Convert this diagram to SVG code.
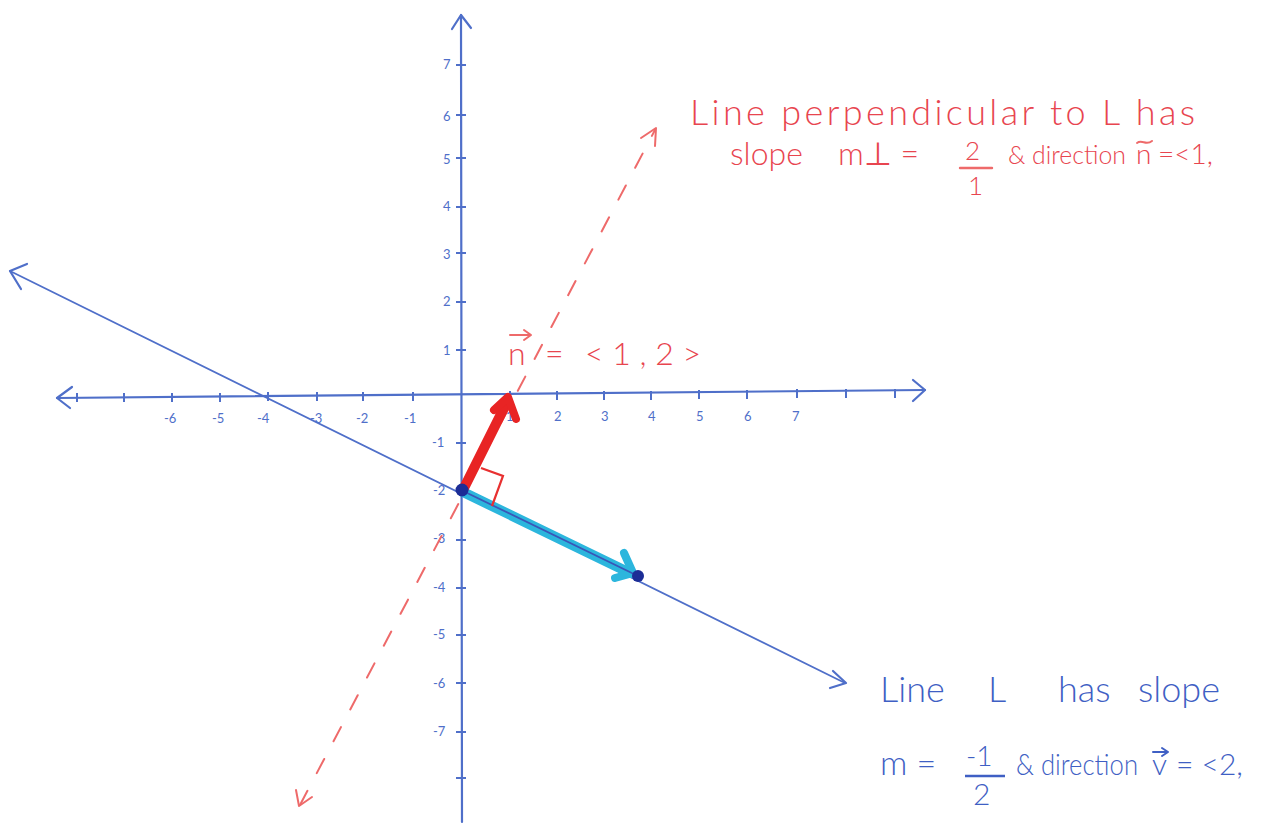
<svg xmlns="http://www.w3.org/2000/svg" width="1283" height="827" viewBox="0 0 1283 827">
<style>
.ax{stroke:#4f6fc9;stroke-width:2.2;fill:none;stroke-linecap:round;stroke-linejoin:round}
.tk{stroke:#4f6fc9;stroke-width:2;fill:none}
.lab{font-family:"Lato","Liberation Sans",sans-serif;font-size:13px;fill:#4f6fc9}
.bt{font-family:"Lato","Liberation Sans",sans-serif;font-weight:300;fill:#3f5fc4}
.rt{font-family:"Lato","Liberation Sans",sans-serif;font-weight:300;fill:#e8454f}
.dash{stroke:#ee6a6a;stroke-width:2;fill:none;stroke-dasharray:16 20;stroke-linecap:round}
.rl{stroke:#ee6a6a;stroke-width:2;fill:none;stroke-linecap:round;stroke-linejoin:round}
.bl{stroke:#3f5fc4;stroke-width:2;fill:none;stroke-linecap:round;stroke-linejoin:round}
</style>
<rect width="1283" height="827" fill="#ffffff"/>
<g id="axes">
<path class="ax" d="M57,398 L925,390"/>
<path class="ax" d="M72,387 L57,398 L70,408"/>
<path class="ax" d="M913,380 L925,390 L913,401"/>
<path class="ax" d="M461,15 L462,822"/>
<path class="ax" d="M452,29 L461,15 L471,28"/>
<g class="tk">
<path d="M77,393 v9 M124,393 v9 M172,393 v9 M220,393 v9 M268,392 v9 M317,392 v9 M363,392 v9 M413,392 v9"/>
<path d="M510,391 v9 M557,391 v9 M604,391 v9 M651,391 v9 M699,390 v9 M747,390 v9 M797,389 v9 M846,389 v9 M895,389 v9"/>
<path d="M456,65 h10 M456,115 h10 M456,158 h10 M456,207 h10 M456,253 h10 M456,302 h10 M456,350 h10"/>
<path d="M456,443 h10 M456,540 h10 M456,588 h10 M456,635 h10 M456,683 h10 M456,732 h10 M456,778 h10"/>
</g>
<g class="lab">
<text x="164" y="423">-6</text><text x="212" y="423">-5</text><text x="257" y="423">-4</text><text x="310" y="423">-3</text><text x="356" y="423">-2</text><text x="404" y="423">-1</text>
<text x="506" y="421">1</text><text x="554" y="421">2</text><text x="601" y="421">3</text><text x="648" y="421">4</text><text x="696" y="421">5</text><text x="744" y="421">6</text><text x="792" y="421">7</text>
<text x="443" y="69">7</text><text x="443" y="121">6</text><text x="443" y="164">5</text><text x="443" y="211">4</text><text x="443" y="259">3</text><text x="443" y="306">2</text><text x="443" y="355">1</text>
<text x="432" y="447">-1</text><text x="433" y="495">-2</text><text x="433" y="543">-3</text><text x="433" y="592">-4</text><text x="433" y="639">-5</text><text x="433" y="688">-6</text><text x="433" y="736">-7</text>
</g>
</g>
<g id="line-perp">
<path class="dash" d="M300,805 L655,130"/>
<path class="rl" d="M641,138 L656,128 L655,146"/>
<path class="rl" d="M296,790 L299,806 L312,797"/>
</g>
<g id="line-L">
<path class="ax" d="M10,271 L845,683" style="stroke-width:1.8"/>
<path class="ax" d="M27,264 L10,271 L21,289"/>
<path class="ax" d="M833,671 L846,683 L830,688"/>
</g>
<g id="vector-v">
<path d="M463,492 L630,573" stroke="#2cb6dd" stroke-width="10" stroke-linecap="round" fill="none"/>
<path d="M624,553 L633,573 L615,578" stroke="#2cb6dd" stroke-width="8" stroke-linecap="round" stroke-linejoin="round" fill="none"/>
<path d="M461,490 L638,576" stroke="#3a56b8" stroke-width="1.8" fill="none"/>
</g>
<g id="vector-n">
<path d="M464,488 L506,404" stroke="#e82424" stroke-width="10" stroke-linecap="round" fill="none"/>
<path d="M494,410 L508,397 L516,419" stroke="#e82424" stroke-width="8" stroke-linecap="round" stroke-linejoin="round" fill="none"/>
<path d="M481,468 L503,476 L492,506" stroke="#e83030" stroke-width="2.2" fill="none"/>
</g>
<g id="points">
<circle cx="462" cy="490" r="6.5" fill="#1c2d96"/>
<circle cx="638" cy="576" r="6" fill="#1c2d96"/>
</g>
<g id="label-n">
<text class="rt" x="508" y="365" font-size="32">n</text>
<path class="rl" d="M510,335 H530 M524,330 L531,335 L524,340"/>
<text class="rt" x="545" y="365" font-size="32">=</text>
<text class="rt" x="585" y="365" font-size="32">&lt; 1 , 2 &gt;</text>
</g>
<g id="text-perp">
<text class="rt" x="690" y="125" font-size="36" textLength="505" lengthAdjust="spacing">Line perpendicular to L has</text>
<text class="rt" x="730" y="165" font-size="32">slope</text>
<text class="rt" x="838" y="165" font-size="32">m⊥ =</text>
<text class="rt" x="965" y="160" font-size="26">2</text>
<path class="rl" d="M960,168 H992" style="stroke-width:2.4"/>
<text class="rt" x="968" y="195" font-size="26">1</text>
<text class="rt" x="1008" y="164" font-size="26" textLength="118" lengthAdjust="spacingAndGlyphs">&amp; direction</text>
<text class="rt" x="1136" y="164" font-size="28">n</text>
<path class="rl" d="M1137,143 C1142,139 1146,146 1152,141"/>
<text class="rt" x="1158" y="164" font-size="28">=&lt;1,</text>
</g>
<g id="text-L">
<text class="bt" x="880" y="702" font-size="36">Line</text>
<text class="bt" x="988" y="702" font-size="36">L</text>
<text class="bt" x="1058" y="702" font-size="36">has</text>
<text class="bt" x="1138" y="702" font-size="36">slope</text>
<text class="bt" x="880" y="775" font-size="34">m =</text>
<text class="bt" x="966" y="766" font-size="28">-1</text>
<path d="M965,776 H1005" stroke="#3f5fc4" stroke-width="2.4" fill="none"/>
<text class="bt" x="973" y="805" font-size="30">2</text>
<text class="bt" x="1016" y="775" font-size="29" textLength="122" lengthAdjust="spacingAndGlyphs">&amp; direction</text>
<text class="bt" x="1152" y="775" font-size="30">v</text>
<path class="bl" d="M1153,752 H1167 M1162,748 L1168,752 L1162,756"/>
<text class="bt" x="1176" y="775" font-size="30">= &lt;2,</text>
</g>
</svg>
